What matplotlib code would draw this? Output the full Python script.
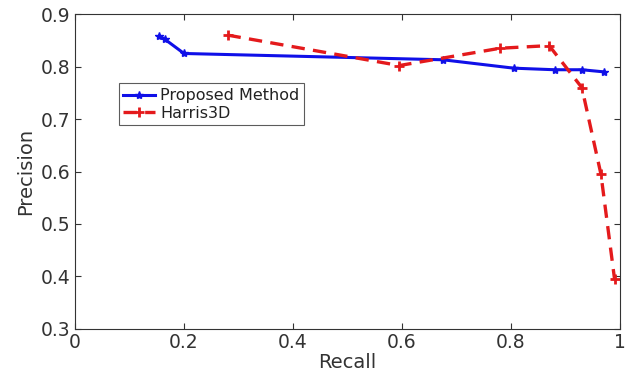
import matplotlib
matplotlib.use("Agg")
import matplotlib.pyplot as plt

# precision / recall
prop_recall = [0.155, 0.165, 0.200, 0.675, 0.805, 0.880, 0.930, 0.970]
prop_prec = [0.858, 0.852, 0.825, 0.813, 0.797, 0.794, 0.794, 0.790]

harris_recall = [0.280, 0.595, 0.780, 0.870, 0.930, 0.965, 0.990]
harris_prec = [0.860, 0.802, 0.835, 0.840, 0.760, 0.595, 0.395]

fig = plt.figure(figsize=(6.25, 3.82), dpi=100)
ax = fig.add_axes([0.12, 0.139, 0.872, 0.824])

ax.plot(prop_recall, prop_prec, "-", color="#1010e8", lw=2.2,
        marker="*", markersize=6, label="Proposed Method")
ax.plot(harris_recall, harris_prec, "--", color="#e41a1c", lw=2.4,
        marker="+", markersize=7, markeredgewidth=2, dashes=(4, 2.5),
        label="Harris3D")

ax.set_xlim(0, 1)
ax.set_ylim(0.3, 0.9)
ax.set_xticks([0, 0.2, 0.4, 0.6, 0.8, 1])
ax.set_xticklabels(["0", "0.2", "0.4", "0.6", "0.8", "1"])
ax.set_yticks([0.3, 0.4, 0.5, 0.6, 0.7, 0.8, 0.9])
ax.tick_params(direction="in", length=4, labelsize=13.5, colors="#333333",
               top=True, right=True, pad=3)
for s in ax.spines.values():
    s.set_color("#333333")
    s.set_linewidth(0.8)

ax.set_xlabel("Recall", fontsize=14, color="#333333", labelpad=1)
ax.set_ylabel("Precision", fontsize=14, color="#333333", labelpad=4)

leg = ax.legend(loc="upper left", bbox_to_anchor=(0.08, 0.78), fontsize=11.5,
                frameon=True, fancybox=False, edgecolor="#333333",
                handlelength=2.0, handletextpad=0.3, borderpad=0.3,
                labelspacing=0.15, borderaxespad=0)
leg.get_frame().set_linewidth(0.8)
for t in leg.get_texts():
    t.set_color("#222222")

fig.savefig("out.png", dpi=100)
